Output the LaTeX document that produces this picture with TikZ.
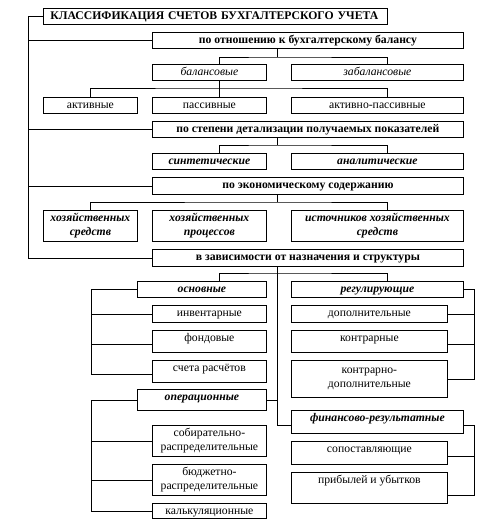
\documentclass[tikz,border=0pt]{standalone}
\usepackage{fontspec}
\setmainfont{Liberation Serif}
\usetikzlibrary{positioning,calc}

\newcommand{\boxfont}{\fontsize{11.7}{14}\selectfont}

\begin{document}
\begin{tikzpicture}[
  x=1pt, y=-1pt,
  base/.style={draw, line width=0.8pt, anchor=north west, inner xsep=2pt,
               inner ysep=1pt, align=center, font=\boxfont},
  box/.style={base, text height=10pt, text depth=#1},
  box/.default=4pt,
  wh/.style 2 args={minimum width=#1pt, minimum height=#2pt},
  bf/.style={font=\boxfont\bfseries},
  it/.style={font=\boxfont\itshape},
  bi/.style={font=\boxfont\bfseries\itshape},
  link/.style={line width=0.8pt}
]
  \useasboundingbox (0,0) rectangle (489,530);

  % Title and criteria
  \node[box, bf, minimum height=16pt, text width=330pt, inner xsep=7pt, align=left]
    (title) at (43,8) {КЛАССИФИКАЦИЯ СЧЕТОВ БУХГАЛТЕРСКОГО УЧЕТА};
  \node[box, bf, wh={311}{16}] (kbal) at (152,32) {по отношению к бухгалтерскому балансу};
  \node[box, bf, wh={311}{16}] (kdet) at (152,121) {по степени детализации получаемых показателей};
  \node[box=5pt, bf, wh={311}{17}] (kecon) at (152,177) {по экономическому содержанию};
  \node[box=5pt, bf, wh={311}{17}] (knaz) at (152,249) {в зависимости от назначения и структуры};

  % By balance
  \node[box, it, wh={114}{16}] (balans) at (152,64) {балансовые};
  \node[box, it, wh={172}{16}] (zabal) at (291,64) {забалансовые};
  \node[box, wh={94}{16}] (akt) at (43,97) {активные};
  \node[box, wh={114}{16}] (pas) at (152,97) {пассивные};
  \node[box, wh={172}{16}] (aktpas) at (291,97) {активно-пассивные};

  % By detail
  \node[box, bi, wh={114}{16}] (sint) at (152,153) {синтетические};
  \node[box, bi, wh={172}{16}] (anal) at (291,153) {аналитические};

  % By economic content
  \node[base, bi, wh={94}{31}] (hsr) at (43,210) {хозяйственных\\средств};
  \node[base, bi, wh={114}{31}] (hpr) at (152,210) {хозяйственных\\процессов};
  \node[base, bi, wh={172}{31}] (ist) at (291,210) {источников хозяйственных\\средств};

  % By purpose and structure
  \node[box, bi, wh={129}{16}] (osn) at (137,281) {основные};
  \node[box, bi, wh={172}{16}] (reg) at (291,281) {регулирующие};
  \node[box=5pt, wh={114}{17}] (inv) at (152,305) {инвентарные};
  \node[box=10pt, wh={114}{22}] (fond) at (152,330) {фондовые};
  \node[box=10pt, wh={114}{22}] (rasch) at (152,360) {счета расчётов};
  \node[box=5pt, wh={156}{17}] (dop) at (291,305) {дополнительные};
  \node[box=10pt, wh={156}{22}] (kontr) at (291,330) {контрарные};
  \node[base, wh={156}{37}] (kdop) at (291,360) {контрарно-\\дополнительные};
  \node[box=9pt, bi, wh={129}{21}] (oper) at (137,389) {операционные};
  \node[box=11pt, bi, wh={172}{23}] (fin) at (291,410) {финансово-результатные};
  \node[base, wh={114}{31}] (sob) at (152,425) {собирательно-\\распределительные};
  \node[base, wh={114}{31}] (bud) at (152,464) {бюджетно-\\распределительные};
  \node[box=3pt, wh={114}{15}] (kalk) at (152,503) {калькуляционные};
  \node[box=11pt, wh={156}{23}] (sop) at (291,441) {сопоставляющие};
  \node[box=19pt, wh={156}{31}] (prib) at (291,472) {прибылей и убытков};

  % Spine and brackets
  \coordinate (spine) at (28,0);
  \coordinate (lb) at (91,0);
  \coordinate (rb) at (474,0);
  \coordinate (cB) at (219,0);
  \coordinate (cC) at (387,0);

  % Bus points
  \coordinate (bus1) at (277,57);
  \coordinate (bus2) at (219,88);
  \coordinate (bus3) at (277,145);
  \coordinate (bus4) at (277,202);
  \coordinate (bus5) at (277,273);

  \draw[link] (title.west) -| (spine |- knaz.west) -- (knaz.west);
  \foreach \n in {kbal,kdet,kecon}
    \draw[link] (spine |- \n.west) -- (\n.west);

  \draw[link] (kbal.south -| bus1) -- (bus1);
  \draw[link] (balans.north -| cB) |- (bus1) -| (zabal.north -| cC);

  \draw[link] (balans.south -| bus2) -- (pas.north -| bus2);
  \draw[link] (akt.north) |- (bus2) -| (aktpas.north -| cC);

  \draw[link] (kdet.south -| bus3) -- (bus3);
  \draw[link] (sint.north -| cB) |- (bus3) -| (anal.north -| cC);

  \draw[link] (kecon.south -| bus4) -- (bus4);
  \draw[link] (hsr.north) |- (bus4) -| (ist.north -| cC);
  \draw[link] (hpr.north -| cB) -- (hpr.north -| cB |- bus4);

  \draw[link] (knaz.south -| bus5) |- ($(fin.west)+(0,3)$);
  \draw[link] (osn.north -| cB) |- (bus5) -| (reg.north -| cC);
  \draw[link] (oper.east) -- (oper.east -| bus5);

  % Left brackets
  \draw[link] (osn.west) -| ($(rasch.west -| lb)+(0,3)$) -- ($(rasch.west)+(0,3)$);
  \draw[link] (inv.west -| lb) -- (inv.west);
  \draw[link] ($(fond.west -| lb)+(0,3)$) -- ($(fond.west)+(0,3)$);
  \draw[link] (oper.west) -| (lb |- kalk.west) -- (kalk.west);
  \draw[link] (sob.west -| lb) -- (sob.west);
  \draw[link] (bud.west -| lb) -- (bud.west);

  % Right brackets
  \draw[link] (reg.east) -| (kdop.east -| rb) -- (kdop.east);
  \draw[link] (dop.east) -- (dop.east -| rb);
  \draw[link] ($(kontr.east)+(0,3)$) -- ($(kontr.east -| rb)+(0,3)$);
  \draw[link] ($(fin.east)+(0,3)$) -| ($(prib.east -| rb)+(0,7)$) -- ($(prib.east)+(0,7)$);
  \draw[link] ($(sop.east)+(0,3)$) -- ($(sop.east -| rb)+(0,3)$);
\end{tikzpicture}
\end{document}
